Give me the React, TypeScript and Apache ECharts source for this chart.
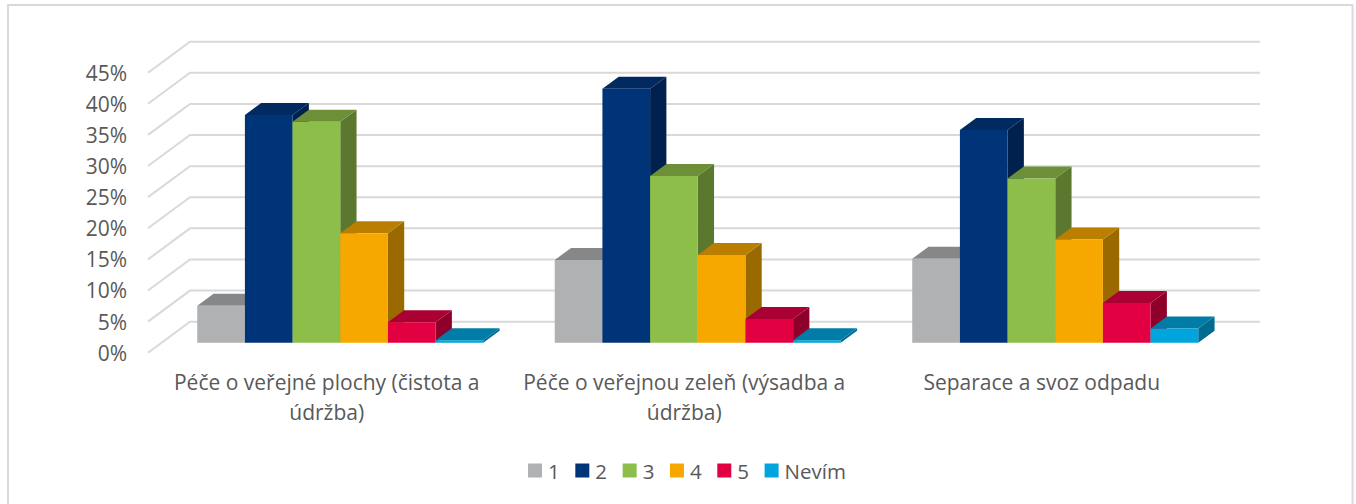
import React, { useEffect, useRef } from "react";
import * as echarts from "echarts";

const categories = [
  "Péče o veřejné plochy (čistota a\núdržba)",
  "Péče o veřejnou zeleň (výsadba a\núdržba)",
  "Separace a svoz odpadu",
];
const ticks = [0, 5, 10, 15, 20, 25, 30, 35, 40, 45];
const names = ["1", "2", "3", "4", "5", "Nevím"];
const s1 = [5.95, 13.3, 13.5];
const s2 = [36.6, 40.8, 34.2];
const s3 = [35.5, 26.8, 26.4];
const s4 = [17.6, 14.1, 16.6];
const s5 = [3.3, 3.8, 6.4];
const s6 = [0.4, 0.4, 2.3];
const values = [s1, s2, s3, s4, s5, s6];
const front = ["#B0B1B3", "#003478", "#8DBE4A", "#F7A800", "#E30042", "#00A5DE"];
const top = ["#868789", "#002A60", "#6C8F38", "#BA7F00", "#AB0033", "#007CA7"];
const side = ["#737476", "#00214D", "#5B782E", "#9A6A00", "#8E002A", "#006A8F"];

const WALL_DX = 42, WALL_DY = 31;
const OFF_DX = 13.5, OFF_DY = 10;
const BAR_DX = 16.3, BAR_DY = 12;

export default function App() {
  const ref = useRef<HTMLDivElement>(null);
  useEffect(() => {
    const chart = echarts.init(ref.current!, null, { renderer: "svg" });
    const gridSeries = {
      type: "custom",
      name: "grid",
      silent: true,
      z: 1,
      data: ticks.map((t) => [0, t]),
      encode: { x: 0, y: 1 },
      renderItem: (params: any, api: any) => {
        const y = api.coord([0, api.value(1)])[1];
        const cs = params.coordSys;
        return {
          type: "polyline",
          shape: {
            points: [
              [cs.x, y],
              [cs.x + WALL_DX, y - WALL_DY],
              [cs.x + cs.width + WALL_DX - 2.5, y - WALL_DY],
            ],
          },
          style: { stroke: "#D9D9D9", lineWidth: 2, fill: "none" },
        };
      },
    };
    const barSeries = names.map((name, i) => ({
      type: "custom",
      name,
      z: 2,
      silent: true,
      itemStyle: { color: front[i] },
      data: values[i].map((v, c) => [c, v]),
      encode: { x: 0, y: 1 },
      renderItem: (_: any, api: any) => {
        const c = api.value(0);
        const band = api.size([1, 0])[0];
        const w = (band * 0.8) / 6;
        const center = api.coord([c, 0])[0];
        const x = center - band * 0.4 + i * w + OFF_DX;
        const y0 = api.coord([c, 0])[1] - OFF_DY;
        const y = api.coord([c, api.value(1)])[1] - OFF_DY;
        return {
          type: "group",
          children: [
            {
              type: "polygon",
              shape: { points: [[x + w, y], [x + w + BAR_DX, y - BAR_DY], [x + w + BAR_DX, y0 - BAR_DY], [x + w, y0]] },
              style: { fill: side[i] },
            },
            {
              type: "polygon",
              shape: { points: [[x, y], [x + w, y], [x + w + BAR_DX, y - BAR_DY], [x + BAR_DX, y - BAR_DY]] },
              style: { fill: top[i] },
            },
            { type: "rect", shape: { x, y, width: w, height: y0 - y }, style: { fill: front[i] } },
          ],
        };
      },
    }));
    chart.setOption({
      animation: false,
      backgroundColor: "#fff",
      textStyle: { fontFamily: "Open Sans" },
      grid: { left: 148, top: 72.7, width: 1072.5, height: 280 },
      xAxis: {
        type: "category",
        data: categories,
        axisLine: { show: false },
        axisTick: { show: false },
        axisLabel: {
          color: "#595959",
          fontSize: 21,
          fontFamily: "Open Sans",
          lineHeight: 29.5,
          margin: 15,
          interval: 0,
        },
      },
      yAxis: {
        type: "value",
        min: 0,
        max: 45,
        interval: 5,
        axisLine: { show: false },
        axisTick: { show: false },
        splitLine: { show: false },
        axisLabel: {
          color: "#595959",
          fontSize: 21,
          fontFamily: "Open Sans",
          margin: 21,
          formatter: "{value}%",
        },
      },
      legend: {
        data: names,
        left: 523,
        top: 455,
        itemWidth: 14,
        itemHeight: 14,
        itemGap: 15.6,
        icon: "rect",
        selectedMode: false,
        textStyle: { color: "#595959", fontSize: 20.5, fontFamily: "Open Sans", padding: [0, 0, 0, 1] },
      },
      graphic: [
        {
          type: "rect",
          silent: true,
          z: -1,
          shape: { x: 8, y: 5, width: 1344.5, height: 530 },
          style: { fill: "none", stroke: "#D9D9D9", lineWidth: 2 },
        },
      ],
      series: [gridSeries, ...barSeries],
    });
    return () => chart.dispose();
  }, []);
  return (
    <div
      ref={ref}
      style={{ position: "absolute", left: 0, top: 0, width: 1356, height: 504 }}
    />
  );
}
